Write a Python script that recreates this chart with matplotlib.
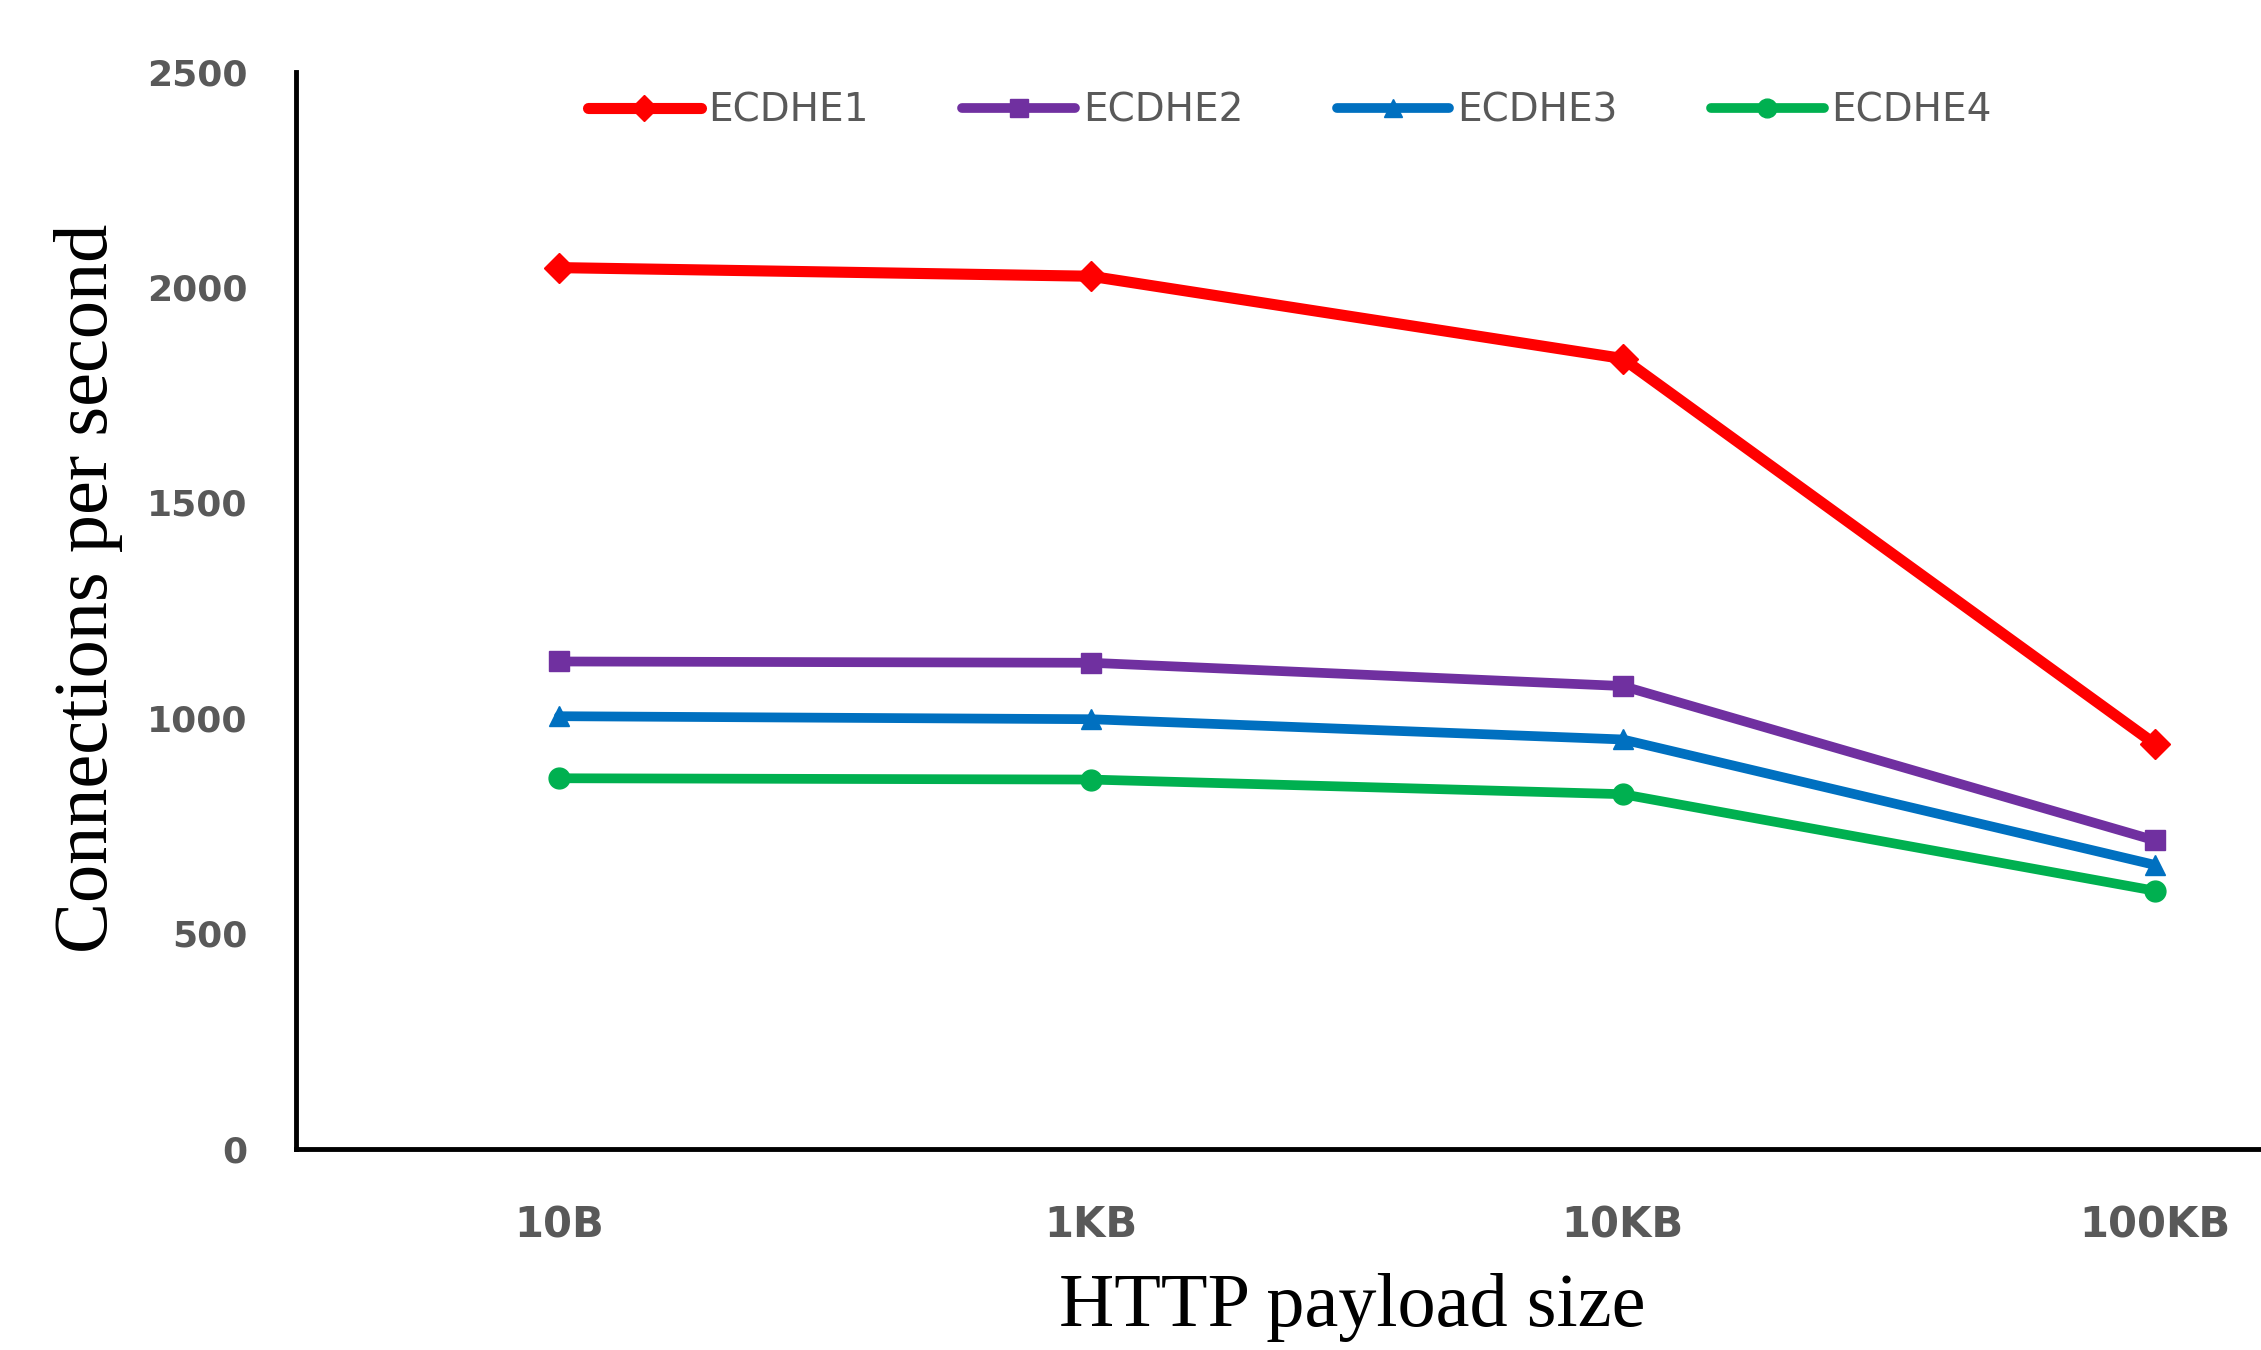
import matplotlib.pyplot as plt

# payload sizes on the x axis
payloads = ["10B", "1KB", "10KB", "100KB"]

ecdhe1 = [2045, 2025, 1834, 940]
ecdhe2 = [1131, 1128, 1074, 716]
ecdhe3 = [1004, 997, 950, 659]
ecdhe4 = [860, 857, 823, 599]

series_names = ["ECDHE1", "ECDHE2", "ECDHE3", "ECDHE4"]
yticks = [0, 500, 1000, 1500, 2000, 2500]

colors = ["#FF0000", "#7030A0", "#0070C0", "#00B050"]
markers = ["D", "s", "^", "o"]
widths = [8, 7, 7, 7]

fig = plt.figure(figsize=(22.61, 13.5), dpi=100)
ax = fig.add_axes([0.131, 0.149, 0.869, 0.798])

x = list(range(len(payloads)))
for vals, name, c, m, lw in zip([ecdhe1, ecdhe2, ecdhe3, ecdhe4], series_names,
                                colors, markers, widths):
    ax.plot(x, vals, color=c, lw=lw, marker=m, markersize=15, label=name,
            solid_capstyle="round", solid_joinstyle="round")

ax.set_xlim(-0.494, 3.2)
ax.set_ylim(0, 2500)
ax.set_xticks(x)
ax.set_xticklabels(payloads)
ax.set_yticks(yticks)
ax.set_yticklabels([str(v) for v in yticks])

tick_gray = "#595959"
ax.tick_params(axis="both", length=0, colors=tick_gray)
ax.tick_params(axis="y", pad=35, labelsize=26)
ax.tick_params(axis="x", pad=40, labelsize=30)
for lab in ax.get_xticklabels() + ax.get_yticklabels():
    lab.set_fontweight("bold")

for s in ["top", "right"]:
    ax.spines[s].set_visible(False)
for s in ["left", "bottom"]:
    ax.spines[s].set_linewidth(3.5)
    ax.spines[s].set_color("black")

fig.text(0.039, 0.564, "Connections per second", rotation=90, ha="center",
         va="center", fontsize=55, family="Liberation Serif")
fig.text(0.598, 0.018, "HTTP payload size", ha="center", va="baseline",
         fontsize=55, family="Liberation Serif")

fig.legend(loc="center left", bbox_to_anchor=(588 / 2261, 1 - 111 / 1350),
           ncol=4, frameon=False, fontsize=28, handlelength=2.9,
           handletextpad=0.2, columnspacing=2.4, borderpad=0, borderaxespad=0,
           numpoints=1, markerscale=0.9, labelcolor=tick_gray)

fig.savefig("out.png", dpi=100)
